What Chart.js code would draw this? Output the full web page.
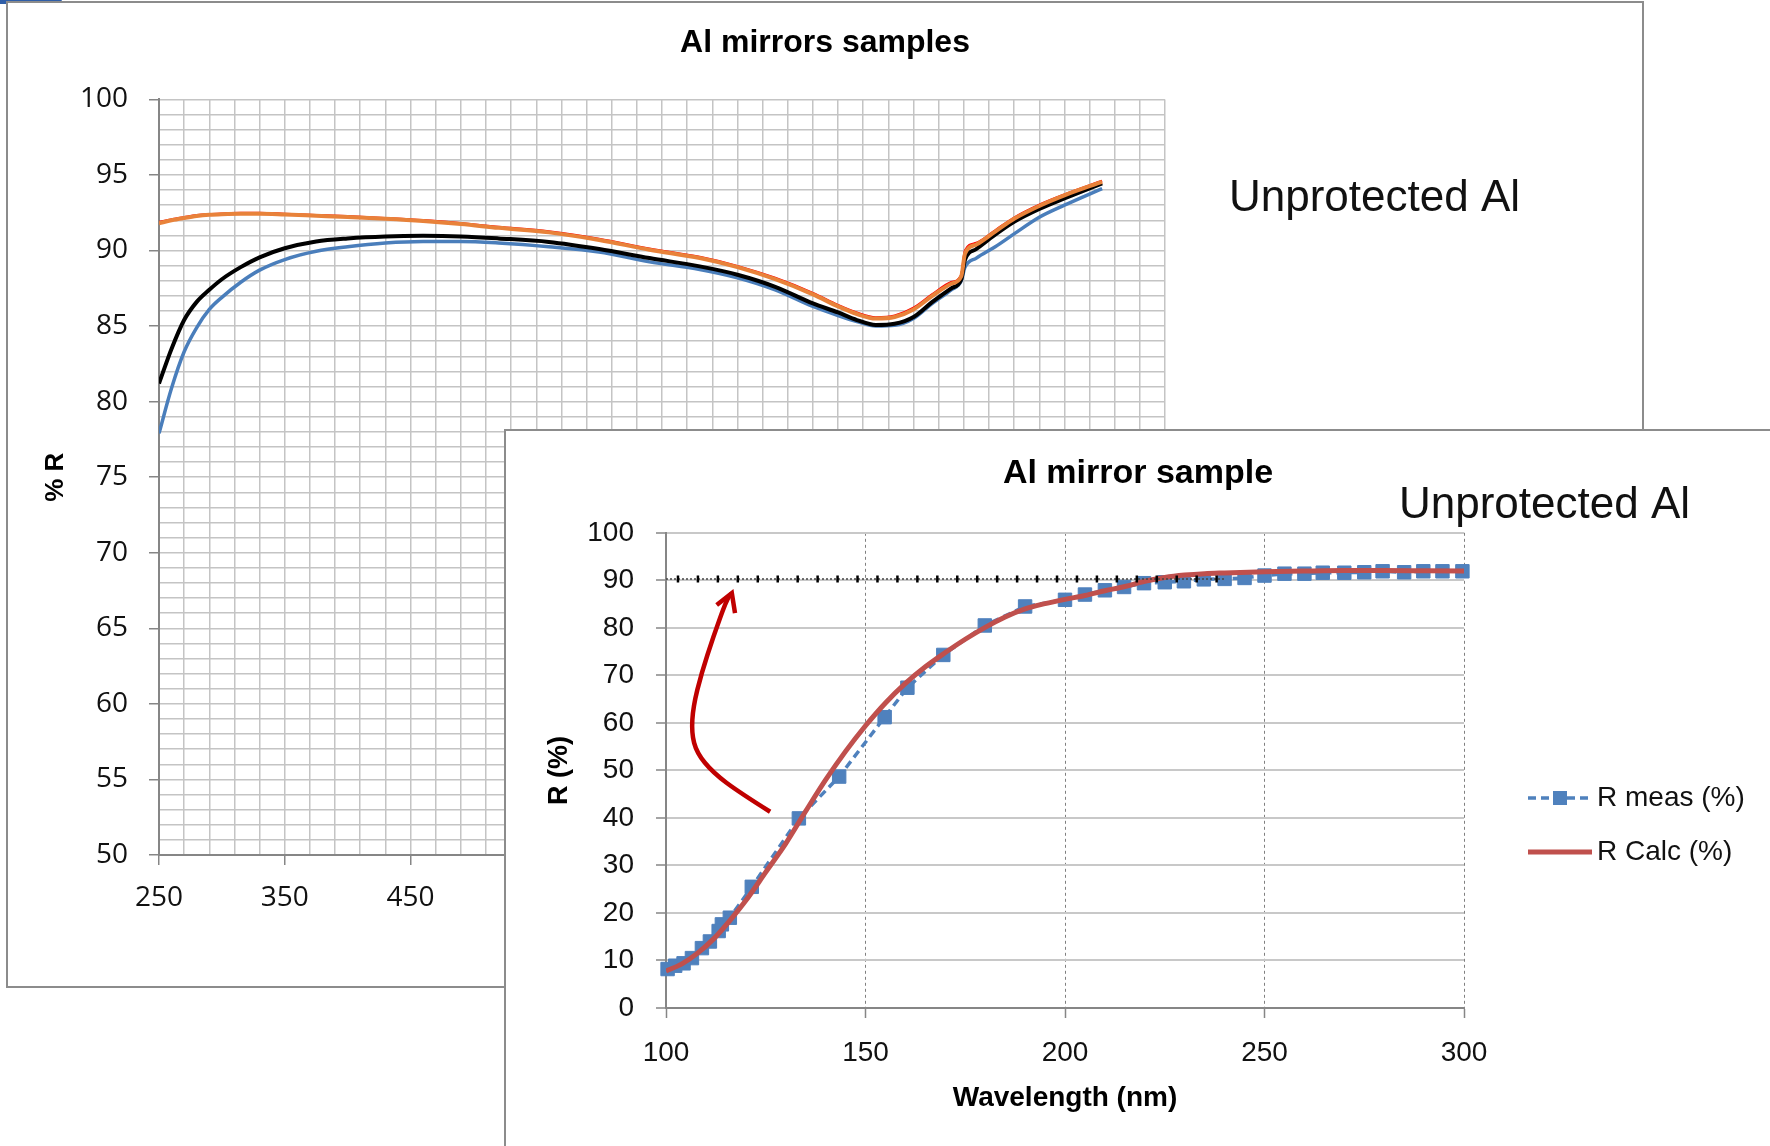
<!DOCTYPE html>
<html>
<head>
<meta charset="utf-8">
<script src="https://cdn.jsdelivr.net/npm/chart.js@4.4.1/dist/chart.umd.min.js"></script>
<style>
  html, body { margin: 0; padding: 0; background: #fff; }
  body { width: 1770px; height: 1146px; position: relative; overflow: hidden; }
  #handle { position: absolute; left: -6px; top: -6px; width: 68px; height: 10px; background: #2f5ea8; border-radius: 5px; }
  #frameA { position: absolute; left: 6px; top: 1px; width: 1638px; height: 987px; border: 2px solid #8c8c8c; box-sizing: border-box; background: #fff; }
  #frameB { position: absolute; left: 504px; top: 429px; width: 1280px; height: 730px; border-top: 2px solid #8c8c8c; border-left: 2px solid #8c8c8c; box-sizing: border-box; background: #fff; }
  canvas { display: block; }
</style>
</head>
<body>
<div id="handle"></div>
<div id="frameA"><canvas id="chartA" width="1634" height="983"></canvas></div>
<div id="frameB"><canvas id="chartB" width="1264" height="715"></canvas></div>

<script>
// ---- back chart: reflectance of four Al mirror samples (250-1000 nm) ----
const waveA = [250, 260, 270, 280, 290, 300, 315, 330, 350, 375, 400, 430, 460, 490, 520, 560, 600, 640, 680, 710,
  740, 770, 790, 805, 820, 835, 850, 865, 880, 888, 891, 900, 915, 930, 950, 970, 1000];
const orangeA = [91.8, 92.0, 92.15, 92.28, 92.36, 92.4, 92.43, 92.43, 92.38, 92.3, 92.22, 92.1, 91.95, 91.75, 91.5, 91.2, 90.7, 90.05, 89.5, 88.9,
  88.1, 87.1, 86.3, 85.8, 85.5, 85.6, 86.1, 87.0, 87.8, 88.3, 89.8, 90.4, 91.25, 92.1, 92.95, 93.65, 94.55];
const redA = [91.88, 92.06, 92.2, 92.33, 92.4, 92.44, 92.48, 92.48, 92.42, 92.34, 92.26, 92.14, 92.0, 91.8, 91.56, 91.26, 90.77, 90.12, 89.57, 88.97,
  88.18, 87.18, 86.38, 85.88, 85.57, 85.68, 86.2, 87.1, 87.9, 88.37, 90.0, 90.5, 91.33, 92.17, 93.02, 93.7, 94.6];
const blackA = [81.2, 83.5, 85.4, 86.6, 87.4, 88.1, 88.9, 89.55, 90.15, 90.6, 90.8, 90.93, 90.97, 90.93, 90.8, 90.57, 90.1, 89.5, 88.95, 88.4,
  87.6, 86.5, 85.9, 85.4, 85.07, 85.15, 85.6, 86.6, 87.5, 88.1, 89.4, 90.1, 91.05, 91.9, 92.75, 93.45, 94.45];
const blueA = [77.9, 80.9, 83.3, 84.9, 86.1, 86.9, 87.9, 88.7, 89.4, 89.95, 90.25, 90.5, 90.6, 90.6, 90.5, 90.25, 89.9, 89.25, 88.75, 88.2,
  87.4, 86.3, 85.7, 85.3, 85.0, 85.05, 85.5, 86.5, 87.4, 88.0, 88.9, 89.5, 90.25, 91.1, 92.2, 93.0, 94.1];

// ---- front chart: measured vs calculated R, 100-300 nm ----
const measX = [100.4, 102.3, 104.4, 106.5, 109, 111, 113.2, 114, 116, 121.5, 133.3, 143.4, 154.8, 160.5, 169.5, 179.9, 190, 200, 205, 210,
  214.8, 219.8, 225, 229.8, 234.8, 240, 245, 250, 255, 260, 264.6, 270, 275, 279.6, 285, 289.8, 294.6, 299.6];
const measY = [8.2, 8.9, 9.4, 10.5, 12.6, 14.0, 16.2, 17.6, 19.0, 25.5, 39.9, 48.7, 61.2, 67.4, 74.3, 80.5, 84.5, 85.9, 87.0, 87.9,
  88.6, 89.4, 89.6, 89.8, 90.2, 90.3, 90.5, 91.0, 91.4, 91.4, 91.6, 91.6, 91.7, 91.9, 91.7, 91.9, 91.9, 91.9];
const calcX = [100, 104, 108, 112, 116, 120, 125, 130, 135, 140, 145, 150, 155, 160, 165, 170, 175, 180, 185, 190,
  195, 200, 205, 210, 215, 220, 225, 230, 235, 240, 250, 260, 270, 280, 290, 300];
const calcY = [7.8, 9.3, 11.6, 14.6, 18.4, 22.6, 28.6, 34.6, 41.4, 48.0, 54.0, 59.4, 64.2, 68.3, 71.8, 74.8, 77.6, 80.1, 82.3, 84.0,
  85.1, 86.0, 86.8, 87.8, 88.7, 89.8, 90.6, 91.1, 91.4, 91.55, 91.8, 91.95, 92.05, 92.05, 92.0, 91.95];
// dotted reference level near 90 % with its small markers
const refLevel = 90.3;
const refX = [100, 103, 108, 113, 118, 123, 128, 133, 138, 143, 148, 153, 158, 163, 168, 173, 178, 183, 188, 193,
  198, 203, 208, 213, 218, 223, 228, 233, 238, 240];

const legendB = ['R meas (%)', 'R Calc (%)'];
const labelFont = 'Liberation Sans';

function pts(xs, ys) {
  return xs.map((x, i) => ({ x: x, y: ys[i] }));
}

// curved red arrow, in data units of the front chart
const arrowPath = [[126.1, 41.3], [118.5, 45.3], [111.8, 49.5], [107.7, 53.7], [106.4, 57.9], [106.8, 63.4],
  [108.9, 70.5], [111.9, 78.2], [115.2, 85.9], [116.5, 87.3]];
const arrowWings = [[112.7, 84.8], [117.3, 83.1]];

// empty right-hand axis that only reserves room, so the title stays centred on the whole frame
function spacer(width) {
  return {
    position: 'right',
    min: 0,
    max: 1,
    afterFit: s => { s.width = width; },
    ticks: { display: false },
    grid: { display: false, drawOnChartArea: false },
    border: { display: false }
  };
}

const noteA = {
  id: 'noteA',
  afterDraw(chart) {
    const ctx = chart.ctx;
    ctx.save();
    ctx.fillStyle = '#111';
    ctx.font = '44px "' + labelFont + '"';
    ctx.textBaseline = 'alphabetic';
    ctx.fillText('Unprotected Al', 1221, 208);
    ctx.restore();
  }
};

const noteB = {
  id: 'noteB',
  afterDraw(chart) {
    const ctx = chart.ctx;
    const xs = chart.scales.x, ys = chart.scales.y;
    const px = p => [xs.getPixelForValue(p[0]), ys.getPixelForValue(p[1])];
    ctx.save();

    // arrow
    const p = arrowPath.map(px);
    ctx.strokeStyle = '#c00000';
    ctx.lineWidth = 4.5;
    ctx.lineCap = 'butt';
    ctx.lineJoin = 'round';
    ctx.beginPath();
    ctx.moveTo(p[0][0], p[0][1]);
    for (let i = 1; i < p.length - 1; i++) {
      const mx = (p[i][0] + p[i + 1][0]) / 2, my = (p[i][1] + p[i + 1][1]) / 2;
      ctx.quadraticCurveTo(p[i][0], p[i][1], mx, my);
    }
    ctx.lineTo(p[p.length - 1][0], p[p.length - 1][1]);
    ctx.stroke();
    const tip = p[p.length - 1];
    const w = arrowWings.map(px);
    ctx.lineJoin = 'miter';
    ctx.beginPath();
    ctx.moveTo(w[0][0], w[0][1]);
    ctx.lineTo(tip[0], tip[1]);
    ctx.lineTo(w[1][0], w[1][1]);
    ctx.stroke();

    // legend
    const rows = [367, 421];
    ctx.font = '28px "' + labelFont + '"';
    ctx.fillStyle = '#111';
    ctx.textBaseline = 'middle';
    rows.forEach((y, i) => {
      const ds = chart.data.datasets[i];
      ctx.strokeStyle = ds.borderColor;
      ctx.lineWidth = ds.borderWidth;
      ctx.setLineDash(ds.borderDash || []);
      ctx.beginPath();
      ctx.moveTo(1022, y);
      ctx.lineTo(1086, y);
      ctx.stroke();
      ctx.setLineDash([]);
      if (ds.pointRadius) {
        ctx.fillStyle = ds.backgroundColor;
        ctx.fillRect(1047, y - 7, 14, 14);
        ctx.fillStyle = '#111';
      }
      ctx.fillText(legendB[i], 1091, y);
    });

    ctx.font = '44px "' + labelFont + '"';
    ctx.textBaseline = 'alphabetic';
    ctx.fillText('Unprotected Al', 893, 87);
    ctx.restore();
  }
};

const isMajorA = v => (v - 250) % 100 === 0;
const gridGray = '#c4c4c4';
const axisGray = '#868686';

new Chart(document.getElementById('chartA'), {
  type: 'line',
  data: {
    datasets: [
      { label: 'Sample 4', data: pts(waveA, orangeA), borderColor: '#e8823a', borderWidth: 4, order: 0 },
      { label: 'Sample 3', data: pts(waveA, redA), borderColor: '#ff0000', borderWidth: 2.5, order: 1 },
      { label: 'Sample 2', data: pts(waveA, blackA), borderColor: '#000000', borderWidth: 4, order: 2 },
      { label: 'Sample 1', data: pts(waveA, blueA), borderColor: '#4a7ebb', borderWidth: 3.5, order: 3 }
    ]
  },
  options: {
    responsive: false,
    animation: false,
    devicePixelRatio: 1,
    layout: { padding: 0 },
    elements: {
      point: { radius: 0 },
      line: { cubicInterpolationMode: 'monotone', fill: false }
    },
    plugins: {
      legend: { display: false },
      tooltip: { enabled: false },
      title: {
        display: true,
        text: 'Al mirrors samples',
        color: '#000',
        font: { family: labelFont, size: 32, weight: 'bold' },
        padding: { top: 21, bottom: 37 }
      }
    },
    scales: {
      x: {
        type: 'linear',
        min: 250,
        max: 1050,
        afterFit: s => { s.height = 131; },
        ticks: {
          stepSize: 20,
          autoSkip: false,
          maxRotation: 0,
          minRotation: 0,
          padding: 16,
          color: '#111',
          font: { family: 'Open Sans', size: 28 },
          callback: v => isMajorA(v) ? v : ''
        },
        grid: {
          color: gridGray,
          lineWidth: 1.5,
          tickLength: 10,
          tickWidth: 1.5,
          tickColor: c => (c.tick && isMajorA(c.tick.value)) ? axisGray : 'rgba(0,0,0,0)'
        },
        border: { color: axisGray, width: 2 }
      },
      y: {
        min: 50,
        max: 100,
        afterFit: s => { s.width = 151; },
        ticks: {
          stepSize: 1,
          autoSkip: false,
          padding: 21,
          color: '#111',
          font: { family: 'Open Sans', size: 28 },
          callback: v => v % 5 === 0 ? v : ''
        },
        grid: {
          color: gridGray,
          lineWidth: 1.5,
          tickLength: 10,
          tickWidth: 1.5,
          tickColor: c => (c.tick && c.tick.value % 5 === 0) ? axisGray : 'rgba(0,0,0,0)'
        },
        border: { color: axisGray, width: 2 },
        title: {
          display: true,
          text: '% R',
          color: '#000',
          font: { family: labelFont, size: 26, weight: 'bold' },
          padding: { top: 32, bottom: 0 }
        }
      },
      side: spacer(477)
    }
  },
  plugins: [noteA]
});

new Chart(document.getElementById('chartB'), {
  type: 'line',
  data: {
    datasets: [
      {
        label: legendB[0],
        data: pts(measX, measY),
        borderColor: '#4f81bd',
        backgroundColor: '#4f81bd',
        borderWidth: 3.5,
        borderDash: [8, 5],
        tension: 0,
        pointStyle: 'rect',
        pointRadius: 9.5,
        pointBorderWidth: 1,
        pointBorderColor: '#4f81bd',
        pointBackgroundColor: '#4f81bd',
        clip: 14,
        order: 2
      },
      {
        label: legendB[1],
        data: pts(calcX, calcY),
        borderColor: '#c0504d',
        borderWidth: 5,
        pointRadius: 0,
        cubicInterpolationMode: 'monotone',
        order: 1
      },
      {
        label: 'reference',
        data: refX.map(x => ({ x: x, y: refLevel })),
        borderColor: '#444',
        borderWidth: 1.5,
        borderDash: [2, 2],
        pointStyle: 'line',
        rotation: 90,
        pointRadius: refX.map((x, i) => (i === 0 || i === refX.length - 1) ? 0 : 3.5),
        pointBorderWidth: 2.5,
        pointBorderColor: '#000',
        order: 0
      }
    ]
  },
  options: {
    responsive: false,
    animation: false,
    devicePixelRatio: 1,
    layout: { padding: 0 },
    plugins: {
      legend: { display: false },
      tooltip: { enabled: false },
      title: {
        display: true,
        text: 'Al mirror sample',
        color: '#000',
        font: { family: labelFont, size: 34, weight: 'bold' },
        padding: { top: 22, bottom: 39 }
      }
    },
    scales: {
      x: {
        type: 'linear',
        min: 100,
        max: 300,
        afterFit: s => { s.height = 138; },
        ticks: {
          stepSize: 50,
          maxRotation: 0,
          padding: 18,
          color: '#111',
          font: { family: labelFont, size: 28 }
        },
        grid: { color: '#808080', lineWidth: 1, tickLength: 10, tickWidth: 1.5, tickColor: axisGray },
        border: { color: axisGray, width: 2, dash: [3, 3] },
        title: {
          display: true,
          text: 'Wavelength (nm)',
          color: '#000',
          font: { family: labelFont, size: 28, weight: 'bold' },
          padding: { top: 0, bottom: 31 }
        }
      },
      y: {
        min: 0,
        max: 100,
        afterFit: s => { s.width = 160; },
        ticks: {
          stepSize: 10,
          padding: 22,
          color: '#111',
          font: { family: labelFont, size: 28 }
        },
        grid: { color: '#c8c8c8', lineWidth: 2, tickLength: 10, tickWidth: 1.5, tickColor: axisGray },
        border: { color: axisGray, width: 2 },
        title: {
          display: true,
          text: 'R (%)',
          color: '#000',
          font: { family: labelFont, size: 27, weight: 'bold' },
          padding: { top: 37, bottom: 0 }
        }
      },
      side: spacer(306)
    }
  },
  plugins: [noteB]
});
</script>
</body>
</html>
